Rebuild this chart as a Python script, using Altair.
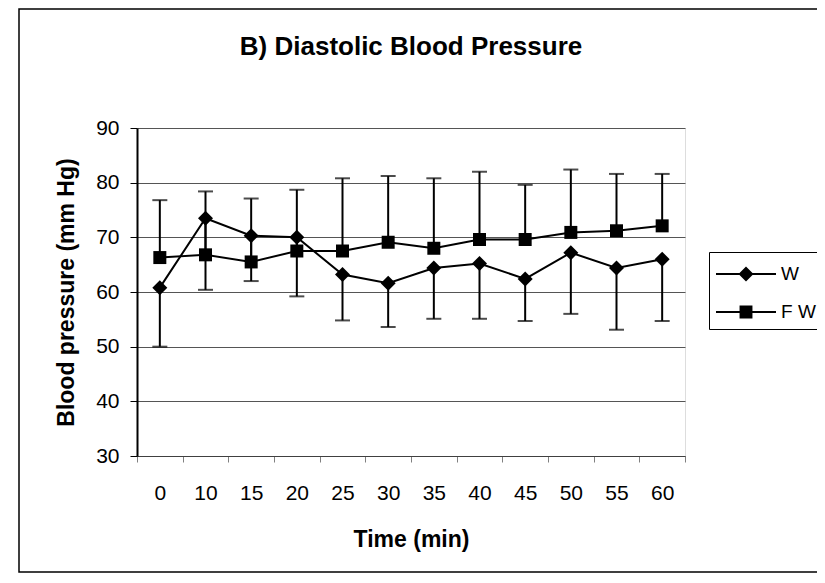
import altair as alt
import pandas as pd

# ---- data ----
times = ["0", "10", "15", "20", "25", "30", "35", "40", "45", "50", "55", "60"]
w_mean = [60.8, 73.5, 70.3, 70.0, 63.2, 61.6, 64.4, 65.2, 62.4, 67.2, 64.4, 66.0]
w_low = [50.0, 60.4, 62.0, 59.2, 54.8, 53.6, 55.1, 55.1, 54.7, 56.0, 53.1, 54.7]
fw_mean = [66.3, 66.8, 65.5, 67.5, 67.5, 69.1, 68.0, 69.6, 69.6, 70.9, 71.2, 72.1]
fw_high = [76.8, 78.4, 77.1, 78.7, 80.8, 81.2, 80.8, 82.0, 79.6, 82.4, 81.6, 81.6]
series_names = ["W", "F W"]
y_ticks = [30, 40, 50, 60, 70, 80, 90]

rows = []
for i, t in enumerate(times):
    rows.append({"time": t, "series": "W", "value": w_mean[i], "err": w_low[i]})
    rows.append({"time": t, "series": "F W", "value": fw_mean[i], "err": fw_high[i]})
df = pd.DataFrame(rows)

FONT = "Liberation Sans"

x_enc = alt.X(
    "time:O",
    sort=times,
    scale=alt.Scale(type="band", paddingInner=0, paddingOuter=0),
    axis=alt.Axis(
        title="Time (min)",
        labelAngle=0,
        tickBand="extent",
        grid=False,
        labelFont=FONT,
        labelFontSize=21,
        labelColor="black",
        labelPadding=20,
        tickSize=6,
        tickColor="#808080",
        tickWidth=1,
        domainColor="#404040",
        domainWidth=1,
        titleFont=FONT,
        titleFontSize=23,
        titleFontWeight="bold",
        titleColor="black",
        titleY=83,
        titleBaseline="middle",
    ),
)


def y_of(field):
    return alt.Y(
        f"{field}:Q",
        title="Blood pressure (mm Hg)",
        scale=alt.Scale(domain=[30, 90], nice=False, zero=False),
        axis=alt.Axis(
            values=y_ticks,
            format="d",
            grid=True,
            gridColor="#555555",
            gridWidth=1,
            domainColor="black",
            domainWidth=2,
            tickColor="black",
            tickSize=7,
            tickWidth=1,
            labelFont=FONT,
            labelFontSize=21,
            labelColor="black",
            labelPadding=11,
            titleFont=FONT,
            titleFontSize=23,
            titleFontWeight="bold",
            titleColor="black",
            titleX=-71,
            titleY=164,
            titleAngle=270,
            titleAlign="center",
            titleBaseline="middle",
        ),
    )


base = alt.Chart(df)

err_rule = base.mark_rule(color="black", strokeWidth=2).encode(
    x=x_enc, y=y_of("value"), y2="err:Q"
)
caps = base.mark_tick(color="black", thickness=2, size=15, orient="horizontal").encode(
    x=x_enc, y=y_of("err")
)
lines = base.mark_line(color="black", strokeWidth=2).encode(
    x=x_enc, y=y_of("value"), detail="series:N"
)
pts_w = (
    base.transform_filter(alt.datum.series == "W")
    .mark_point(shape="diamond", size=225, filled=True, color="black", opacity=1)
    .encode(x=x_enc, y=y_of("value"))
)
pts_fw = (
    base.transform_filter(alt.datum.series == "F W")
    .mark_point(shape="square", size=169, filled=True, color="black", opacity=1)
    .encode(x=x_enc, y=y_of("value"))
)

# legend symbols: filled thin bar (the line) plus marker; unit = sqrt(size)/2
path_w = "M-1,-0.07H3V0.07H-1ZM1,-0.5L1.5,0L1,0.5L0.5,0Z"
path_fw = "M-1,-0.07H3V0.07H-1ZM0.57,-0.43H1.43V0.43H0.57Z"
legend_layer = (
    base.transform_filter("false")
    .mark_point(filled=True, color="black", opacity=1)
    .encode(
        x=x_enc,
        y=y_of("value"),
        shape=alt.Shape(
            "series:N",
            scale=alt.Scale(domain=series_names, range=[path_w, path_fw]),
            legend=alt.Legend(
                title=None,
                orient="none",
                legendX=572,
                legendY=124,
                padding=7,
                strokeColor="black",
                fillColor="white",
                symbolSize=900,
                symbolFillColor="black",
                symbolStrokeWidth=0,
                symbolOpacity=1,
                rowPadding=13,
                labelOffset=35,
                labelFont=FONT,
                labelFontSize=19,
                labelColor="black",
            ),
        ),
    )
)

frame = (
    alt.Chart(alt.Data(values=[{"k": 1}]))
    .mark_rect(fillOpacity=0, stroke="black", strokeWidth=1.5, clip=False)
    .encode(
        x=alt.value(-118),
        x2=alt.value(700),
        y=alt.value(-119),
        y2=alt.value(444),
    )
)

chart = (
    alt.layer(frame, err_rule, caps, lines, pts_w, pts_fw, legend_layer)
    .properties(
        width=548,
        height=328,
        autosize=alt.AutoSizeParams(type="none"),
        padding={"left": 129, "top": 120, "right": 132, "bottom": 117},
        title=alt.Title(
            "B) Diastolic Blood Pressure",
            font=FONT,
            fontSize=26,
            fontWeight="bold",
            color="black",
            anchor="middle",
            baseline="middle",
            offset=-65,
        ),
    )
    .configure_view(stroke="#808080", strokeWidth=2)
    .configure(background="white")
)

chart.save("out.html", embed_options={"renderer": "svg", "actions": False})
